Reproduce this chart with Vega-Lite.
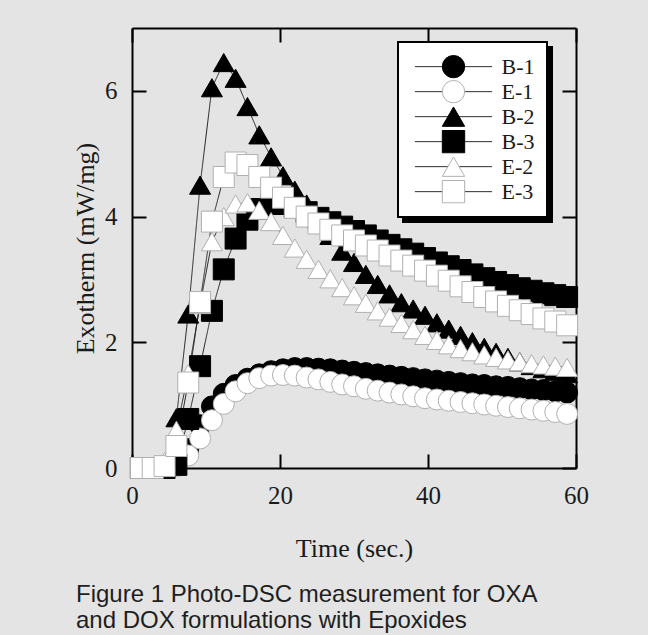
{
  "$schema": "https://vega.github.io/schema/vega-lite/v6.json",
  "width": 444,
  "height": 440,
  "autosize": {"type": "none"},
  "padding": {"left": 132, "top": 28, "right": 72, "bottom": 167},
  "background": "#e4e4e4",
  "title": {
    "text": ["Figure 1 Photo-DSC measurement for OXA", "and DOX formulations with Epoxides"],
    "orient": "bottom", "anchor": "start", "frame": "group", "offset": 41, "dx": -56,
    "baseline": "alphabetic", "font": "Liberation Sans", "fontSize": 24, "fontWeight": "normal",
    "color": "#1e1e1e", "lineHeight": 26
  },
  "data": {"values": [
    {"s":"B-1","t":1.2,"v":0},{"s":"B-1","t":2.8,"v":0},{"s":"B-1","t":4.4,"v":0},{"s":"B-1","t":6,"v":0.05},{"s":"B-1","t":7.6,"v":0.3},{"s":"B-1","t":9.2,"v":0.68},{"s":"B-1","t":10.8,"v":0.98},{"s":"B-1","t":12.4,"v":1.18},{"s":"B-1","t":14,"v":1.32},{"s":"B-1","t":15.6,"v":1.42},{"s":"B-1","t":17.2,"v":1.49},{"s":"B-1","t":18.8,"v":1.54},{"s":"B-1","t":20.4,"v":1.57},{"s":"B-1","t":22,"v":1.59},{"s":"B-1","t":23.6,"v":1.59},{"s":"B-1","t":25.2,"v":1.58},{"s":"B-1","t":26.8,"v":1.57},{"s":"B-1","t":28.4,"v":1.55},{"s":"B-1","t":30,"v":1.53},{"s":"B-1","t":31.6,"v":1.51},{"s":"B-1","t":33.2,"v":1.49},{"s":"B-1","t":34.8,"v":1.47},{"s":"B-1","t":36.4,"v":1.45},{"s":"B-1","t":38,"v":1.43},{"s":"B-1","t":39.6,"v":1.41},{"s":"B-1","t":41.2,"v":1.39},{"s":"B-1","t":42.8,"v":1.37},{"s":"B-1","t":44.4,"v":1.35},{"s":"B-1","t":46,"v":1.33},{"s":"B-1","t":47.6,"v":1.32},{"s":"B-1","t":49.2,"v":1.3},{"s":"B-1","t":50.8,"v":1.29},{"s":"B-1","t":52.4,"v":1.27},{"s":"B-1","t":54,"v":1.25},{"s":"B-1","t":55.6,"v":1.24},{"s":"B-1","t":57.2,"v":1.22},{"s":"B-1","t":58.8,"v":1.2},
    {"s":"E-1","t":1.2,"v":0},{"s":"E-1","t":2.8,"v":0},{"s":"E-1","t":4.4,"v":0},{"s":"E-1","t":6,"v":0.03},{"s":"E-1","t":7.6,"v":0.2},{"s":"E-1","t":9.2,"v":0.47},{"s":"E-1","t":10.8,"v":0.76},{"s":"E-1","t":12.4,"v":1.02},{"s":"E-1","t":14,"v":1.22},{"s":"E-1","t":15.6,"v":1.35},{"s":"E-1","t":17.2,"v":1.43},{"s":"E-1","t":18.8,"v":1.47},{"s":"E-1","t":20.4,"v":1.48},{"s":"E-1","t":22,"v":1.47},{"s":"E-1","t":23.6,"v":1.44},{"s":"E-1","t":25.2,"v":1.41},{"s":"E-1","t":26.8,"v":1.37},{"s":"E-1","t":28.4,"v":1.33},{"s":"E-1","t":30,"v":1.3},{"s":"E-1","t":31.6,"v":1.26},{"s":"E-1","t":33.2,"v":1.23},{"s":"E-1","t":34.8,"v":1.2},{"s":"E-1","t":36.4,"v":1.17},{"s":"E-1","t":38,"v":1.14},{"s":"E-1","t":39.6,"v":1.11},{"s":"E-1","t":41.2,"v":1.09},{"s":"E-1","t":42.8,"v":1.07},{"s":"E-1","t":44.4,"v":1.05},{"s":"E-1","t":46,"v":1.03},{"s":"E-1","t":47.6,"v":1.01},{"s":"E-1","t":49.2,"v":0.99},{"s":"E-1","t":50.8,"v":0.97},{"s":"E-1","t":52.4,"v":0.95},{"s":"E-1","t":54,"v":0.93},{"s":"E-1","t":55.6,"v":0.91},{"s":"E-1","t":57.2,"v":0.89},{"s":"E-1","t":58.8,"v":0.86},
    {"s":"B-2","t":1.2,"v":0},{"s":"B-2","t":2.8,"v":0},{"s":"B-2","t":4.4,"v":0.05},{"s":"B-2","t":6,"v":0.8},{"s":"B-2","t":7.6,"v":2.45},{"s":"B-2","t":9.2,"v":4.5},{"s":"B-2","t":10.8,"v":6.05},{"s":"B-2","t":12.4,"v":6.45},{"s":"B-2","t":14,"v":6.2},{"s":"B-2","t":15.6,"v":5.75},{"s":"B-2","t":17.2,"v":5.3},{"s":"B-2","t":18.8,"v":4.95},{"s":"B-2","t":20.4,"v":4.65},{"s":"B-2","t":22,"v":4.42},{"s":"B-2","t":23.6,"v":4.2},{"s":"B-2","t":25.2,"v":3.96},{"s":"B-2","t":26.8,"v":3.7},{"s":"B-2","t":28.4,"v":3.45},{"s":"B-2","t":30,"v":3.27},{"s":"B-2","t":31.6,"v":3.08},{"s":"B-2","t":33.2,"v":2.92},{"s":"B-2","t":34.8,"v":2.77},{"s":"B-2","t":36.4,"v":2.63},{"s":"B-2","t":38,"v":2.53},{"s":"B-2","t":39.6,"v":2.43},{"s":"B-2","t":41.2,"v":2.31},{"s":"B-2","t":42.8,"v":2.21},{"s":"B-2","t":44.4,"v":2.11},{"s":"B-2","t":46,"v":2.01},{"s":"B-2","t":47.6,"v":1.92},{"s":"B-2","t":49.2,"v":1.84},{"s":"B-2","t":50.8,"v":1.76},{"s":"B-2","t":52.4,"v":1.69},{"s":"B-2","t":54,"v":1.63},{"s":"B-2","t":55.6,"v":1.58},{"s":"B-2","t":57.2,"v":1.54},{"s":"B-2","t":58.8,"v":1.5},
    {"s":"B-3","t":1.2,"v":0},{"s":"B-3","t":2.8,"v":0},{"s":"B-3","t":4.4,"v":0},{"s":"B-3","t":6,"v":0.05},{"s":"B-3","t":7.6,"v":0.78},{"s":"B-3","t":9.2,"v":1.62},{"s":"B-3","t":10.8,"v":2.5},{"s":"B-3","t":12.4,"v":3.16},{"s":"B-3","t":14,"v":3.65},{"s":"B-3","t":15.6,"v":3.95},{"s":"B-3","t":17.2,"v":4.12},{"s":"B-3","t":18.8,"v":4.2},{"s":"B-3","t":20.4,"v":4.2},{"s":"B-3","t":22,"v":4.15},{"s":"B-3","t":23.6,"v":4.07},{"s":"B-3","t":25.2,"v":3.98},{"s":"B-3","t":26.8,"v":3.91},{"s":"B-3","t":28.4,"v":3.84},{"s":"B-3","t":30,"v":3.77},{"s":"B-3","t":31.6,"v":3.7},{"s":"B-3","t":33.2,"v":3.62},{"s":"B-3","t":34.8,"v":3.55},{"s":"B-3","t":36.4,"v":3.48},{"s":"B-3","t":38,"v":3.41},{"s":"B-3","t":39.6,"v":3.34},{"s":"B-3","t":41.2,"v":3.27},{"s":"B-3","t":42.8,"v":3.21},{"s":"B-3","t":44.4,"v":3.15},{"s":"B-3","t":46,"v":3.08},{"s":"B-3","t":47.6,"v":3.02},{"s":"B-3","t":49.2,"v":2.96},{"s":"B-3","t":50.8,"v":2.91},{"s":"B-3","t":52.4,"v":2.86},{"s":"B-3","t":54,"v":2.82},{"s":"B-3","t":55.6,"v":2.78},{"s":"B-3","t":57.2,"v":2.75},{"s":"B-3","t":58.8,"v":2.72},
    {"s":"E-2","t":1.2,"v":0},{"s":"E-2","t":2.8,"v":0},{"s":"E-2","t":4.4,"v":0.1},{"s":"E-2","t":6,"v":0.6},{"s":"E-2","t":7.6,"v":1.5},{"s":"E-2","t":9.2,"v":2.6},{"s":"E-2","t":10.8,"v":3.6},{"s":"E-2","t":12.4,"v":4.0},{"s":"E-2","t":14,"v":4.2},{"s":"E-2","t":15.6,"v":4.22},{"s":"E-2","t":17.2,"v":4.1},{"s":"E-2","t":18.8,"v":3.92},{"s":"E-2","t":20.4,"v":3.7},{"s":"E-2","t":22,"v":3.5},{"s":"E-2","t":23.6,"v":3.32},{"s":"E-2","t":25.2,"v":3.16},{"s":"E-2","t":26.8,"v":3.01},{"s":"E-2","t":28.4,"v":2.87},{"s":"E-2","t":30,"v":2.74},{"s":"E-2","t":31.6,"v":2.62},{"s":"E-2","t":33.2,"v":2.5},{"s":"E-2","t":34.8,"v":2.4},{"s":"E-2","t":36.4,"v":2.3},{"s":"E-2","t":38,"v":2.2},{"s":"E-2","t":39.6,"v":2.11},{"s":"E-2","t":41.2,"v":2.03},{"s":"E-2","t":42.8,"v":1.96},{"s":"E-2","t":44.4,"v":1.9},{"s":"E-2","t":46,"v":1.85},{"s":"E-2","t":47.6,"v":1.8},{"s":"E-2","t":49.2,"v":1.76},{"s":"E-2","t":50.8,"v":1.72},{"s":"E-2","t":52.4,"v":1.69},{"s":"E-2","t":54,"v":1.66},{"s":"E-2","t":55.6,"v":1.64},{"s":"E-2","t":57.2,"v":1.62},{"s":"E-2","t":58.8,"v":1.6},
    {"s":"E-3","t":1.2,"v":0},{"s":"E-3","t":2.8,"v":0},{"s":"E-3","t":4.4,"v":0.03},{"s":"E-3","t":6,"v":0.35},{"s":"E-3","t":7.6,"v":1.36},{"s":"E-3","t":9.2,"v":2.64},{"s":"E-3","t":10.8,"v":3.92},{"s":"E-3","t":12.4,"v":4.63},{"s":"E-3","t":14,"v":4.86},{"s":"E-3","t":15.6,"v":4.82},{"s":"E-3","t":17.2,"v":4.63},{"s":"E-3","t":18.8,"v":4.46},{"s":"E-3","t":20.4,"v":4.3},{"s":"E-3","t":22,"v":4.14},{"s":"E-3","t":23.6,"v":4.0},{"s":"E-3","t":25.2,"v":3.89},{"s":"E-3","t":26.8,"v":3.79},{"s":"E-3","t":28.4,"v":3.7},{"s":"E-3","t":30,"v":3.62},{"s":"E-3","t":31.6,"v":3.54},{"s":"E-3","t":33.2,"v":3.46},{"s":"E-3","t":34.8,"v":3.38},{"s":"E-3","t":36.4,"v":3.3},{"s":"E-3","t":38,"v":3.22},{"s":"E-3","t":39.6,"v":3.14},{"s":"E-3","t":41.2,"v":3.06},{"s":"E-3","t":42.8,"v":2.98},{"s":"E-3","t":44.4,"v":2.89},{"s":"E-3","t":46,"v":2.8},{"s":"E-3","t":47.6,"v":2.72},{"s":"E-3","t":49.2,"v":2.65},{"s":"E-3","t":50.8,"v":2.58},{"s":"E-3","t":52.4,"v":2.51},{"s":"E-3","t":54,"v":2.45},{"s":"E-3","t":55.6,"v":2.38},{"s":"E-3","t":57.2,"v":2.33},{"s":"E-3","t":58.8,"v":2.27}
  ]},
  "layer": [
    {
      "mark": {"type": "line", "stroke": "#222", "strokeWidth": 1},
      "encoding": {
        "x": {"field": "t", "type": "quantitative", "scale": {"domain": [0, 60]},
              "axis": {"orient": "bottom", "values": [0, 20, 40, 60], "ticks": false, "tickSize": 0, "labelPadding": 15,
                       "title": "Time (sec.)", "titleX": 222, "titleY": 88, "titleAlign": "center", "titleBaseline": "alphabetic"}},
        "y": {"field": "v", "type": "quantitative", "scale": {"domain": [0, 7]},
              "axis": {"orient": "left", "values": [0, 2, 4, 6], "ticks": false, "tickSize": 0, "labelPadding": 15,
                       "title": "Exotherm (mW/mg)", "titleX": -39, "titleY": 220, "titleAngle": 270, "titleAlign": "center", "titleBaseline": "alphabetic"}},
        "strokeDash": {"field": "s", "type": "nominal",
          "scale": {"domain": ["B-1", "E-1", "B-2", "B-3", "E-2", "E-3"], "range": [[1, 0], [1, 0], [1, 0], [1, 0], [1, 0], [1, 0]]},
          "legend": {"title": null, "orient": "none", "legendX": 266, "legendY": 14, "fillColor": "#ffffff", "strokeColor": "#000000", "symbolType": "M-3.45,0H3.45", "symbolStrokeColor": "#222222", "labelOpacity": 0, "zindex": 2}}
      }
    },
    {
      "mark": {"type": "point", "opacity": 0},
      "encoding": {
        "x": {"field": "t", "type": "quantitative",
              "axis": {"orient": "top", "offset": -440, "values": [0, 20, 40, 60], "labels": false, "domain": false, "title": null}},
        "y": {"field": "v", "type": "quantitative",
              "axis": {"orient": "right", "offset": -444, "values": [0, 2, 4, 6], "labels": false, "domain": false, "title": null}},
        "strokeDash": {"field": "s", "type": "nominal",
          "scale": {"domain": ["B-1", "E-1", "B-2", "B-3", "E-2", "E-3"], "range": [[1, 0], [1, 0], [1, 0], [1, 0], [1, 0], [1, 0]]},
          "legend": {"title": null, "orient": "none", "legendX": 271, "legendY": 19, "fillColor": "#000000", "strokeColor": "#000000", "symbolOpacity": 0, "labelOpacity": 0, "zindex": 1}}
      }
    },
    {
      "mark": {"type": "point", "filled": true, "size": 440, "strokeWidth": 1, "opacity": 1},
      "encoding": {
        "x": {"field": "t", "type": "quantitative",
              "axis": {"orient": "bottom", "offset": -440, "values": [0, 20, 40, 60], "labels": false, "title": null}},
        "y": {"field": "v", "type": "quantitative",
              "axis": {"orient": "left", "offset": -444, "values": [0, 2, 4, 6], "labels": false, "title": null}},
        "shape": {"field": "s", "type": "nominal",
          "scale": {"domain": ["B-1", "E-1", "B-2", "B-3", "E-2", "E-3"], "range": ["circle", "circle", "triangle-up", "square", "triangle-up", "square"]},
          "legend": {"title": null, "orient": "none", "legendX": 266, "legendY": 14, "zindex": 3}},
        "fill": {"field": "s", "type": "nominal",
          "scale": {"domain": ["B-1", "E-1", "B-2", "B-3", "E-2", "E-3"], "range": ["#000000", "#ffffff", "#000000", "#000000", "#ffffff", "#ffffff"]},
          "legend": {"title": null, "orient": "none", "legendX": 266, "legendY": 14, "zindex": 3}},
        "stroke": {"field": "s", "type": "nominal",
          "scale": {"domain": ["B-1", "E-1", "B-2", "B-3", "E-2", "E-3"], "range": ["#000000", "#b0b0b0", "#000000", "#000000", "#b0b0b0", "#b0b0b0"]},
          "legend": {"title": null, "orient": "none", "legendX": 266, "legendY": 14, "zindex": 3}}
      }
    }
  ],
  "resolve": {"scale": {"strokeDash": "independent"}, "axis": {"x": "independent", "y": "independent"}},
  "config": {
    "view": {"stroke": null},
    "axis": {
      "grid": false, "domainColor": "#000000", "domainWidth": 2, "tickColor": "#000000", "tickWidth": 2,
      "tickSize": 14, "labelPadding": 15, "labelFlush": false, "labelOverlap": false,
      "labelFont": "Liberation Serif", "labelFontSize": 25, "labelColor": "#1a1a1a",
      "titleFont": "Liberation Serif", "titleFontSize": 26, "titleFontWeight": "normal", "titleColor": "#1a1a1a"
    },
    "legend": {
      "labelFont": "Liberation Serif", "labelFontSize": 22, "labelColor": "#1a1a1a",
      "symbolSize": 500, "symbolStrokeWidth": 1, "padding": 12.5, "rowPadding": 0, "clipHeight": 24.3,
      "symbolOffset": 31, "labelOffset": 36, "strokeWidth": 2, "labelLimit": 0
    }
  }
}
